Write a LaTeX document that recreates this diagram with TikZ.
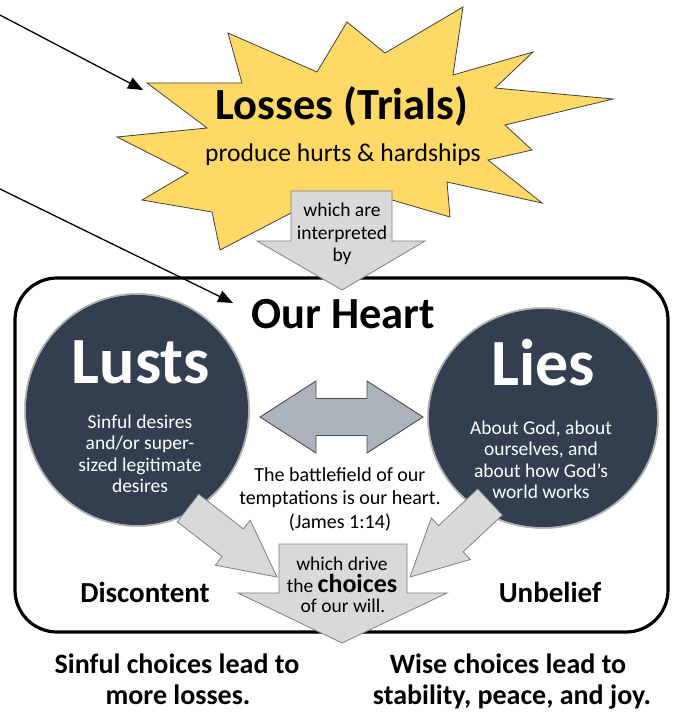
\documentclass[tikz,border=0pt]{standalone}
\usepackage{fontspec}
\setmainfont{Carlito}
\usetikzlibrary{arrows.meta,calc}

\definecolor{burstgold}{HTML}{FFD966}
\definecolor{heartnavy}{HTML}{333F50}
\definecolor{blockgray}{HTML}{D9D9D9}
\definecolor{slategray}{HTML}{ADB3BD}

\tikzset{
  burst/.style={fill=burstgold, draw=black!75, line width=0.8pt},
  blockarrow/.style={fill=blockgray, draw=black!50, line width=0.8pt},
  twoway/.style={fill=slategray, draw=black!70, line width=0.9pt},
  heartbox/.style={draw=black, line width=3.2pt, rounded corners=42pt},
  heartcircle/.style={fill=heartnavy, draw=black!30, line width=1.5pt},
  pointer/.style={line width=1.3pt, -{Triangle[length=15pt,width=12pt]}},
  title/.style={anchor=base, font=\fontsize{44.5}{50}\selectfont\bfseries},
  bigword/.style={anchor=base, text=white, font=\fontsize{66}{70}\selectfont\bfseries},
  small/.style={align=center, font=\fontsize{19.5}{22.5}\selectfont},
  whitesmall/.style={align=center, text=white, font=\fontsize{19.5}{21.5}\selectfont},
  arrowline/.style={anchor=base, inner sep=0pt, font=\fontsize{19.5}{22}\selectfont},
  sidelabel/.style={anchor=base, font=\fontsize{29}{34}\selectfont\bfseries},
  result/.style={anchor=base, font=\fontsize{28}{32}\selectfont\bfseries},
}

% fat arrow: tail, tip, shaft half width, head half width, head length
\newcommand{\fatarrow}[5]{%
  \coordinate (hb) at ($(#2)!#5!(#1)$);
  \filldraw[blockarrow] ($(#1)!#3!90:(#2)$) -- ($(hb)!#3!90:(#2)$)
    -- ($(hb)!#4!90:(#2)$) -- (#2) -- ($(hb)!#4!-90:(#2)$)
    -- ($(hb)!#3!-90:(#2)$) -- ($(#1)!#3!-90:(#2)$) -- cycle;}

\begin{document}
\begin{tikzpicture}[x=1pt,y=-1pt]
  \useasboundingbox (0,0) rectangle (673,714);

  % the burst of losses
  \filldraw[burst] (463,7) -- (453,75) -- (533,52) -- (495,88) -- (613,99)
    -- (505,125) -- (532,150) -- (488,160) -- (542,203) -- (447,182)
    -- (450,217) -- (392,200) -- (342,225) -- (291,213) -- (220,250)
    -- (212,212) -- (142,200) -- (188,173) -- (117,137) -- (207,128)
    -- (147,83) -- (242,83) -- (228,33) -- (317,72) -- (347,22)
    -- (385,53) -- cycle;
  \node[title] (losses) at (342,120) {Losses (Trials)};
  \node[anchor=base, font=\fontsize{25.6}{30}\selectfont] (hurts) at (343,162) {produce hurts \& hardships};

  % heart frame and the two circles
  \draw[heartbox] (15,278) rectangle (668,632);
  \node[title] (heart) at (343,328) {Our Heart};
  \fill[heartcircle] (137,410) ellipse [x radius=112, y radius=116];
  \draw[black!30, line width=1.5pt] (137,410) ellipse [x radius=112, y radius=116];
  \fill[heartcircle] (543,418) ellipse [x radius=115, y radius=110];
  \draw[black!30, line width=1.5pt] (543,418) ellipse [x radius=115, y radius=110];
  \node[bigword] (lusts) at (141,383) {Lusts};
  \node[whitesmall] (lustsnote) at (140,454) {Sinful desires\\and/or super-\\sized legitimate\\desires};
  \node[bigword] (lies) at (543,385) {Lies};
  \node[whitesmall] (liesnote) at (541,460) {About God, about\\ourselves, and\\about how God's\\world works};

  % interpreted by
  \filldraw[blockarrow] (291,191) -- (392,191) -- (392,241) -- (425,241)
    -- (342,290) -- (257,241) -- (291,241) -- cycle;
  \node[small] (interp) at (342,234) {which are\\interpreted\\by};

  % lusts and lies work together
  \filldraw[twoway] (260,417) -- (316,381) -- (316,398.5) -- (367,398.5)
    -- (367,381) -- (423,417) -- (367,453) -- (367,435.5) -- (316,435.5)
    -- (316,453) -- cycle;
  \node[small, font=\fontsize{20}{23.5}\selectfont] (battle) at (340,499)
    {The battlefield of our\\temptations is our heart.\\(James 1:14)};

  % both drive the will
  \coordinate (lustsout) at (188,508);
  \coordinate (choicesleft) at (277,577);
  \coordinate (liesout) at (490,502);
  \coordinate (choicesright) at (410,577);
  \fatarrow{lustsout}{choicesleft}{17.5pt}{28.5pt}{56pt}
  \fatarrow{liesout}{choicesright}{18pt}{28.5pt}{56pt}

  \filldraw[blockarrow] (279,544) -- (407,544) -- (407,593) -- (447,593)
    -- (342,643) -- (238,593) -- (279,593) -- cycle;
  \node[arrowline] (drive) at (342,570) {which drive};
  \node[arrowline] (choices) at (342,592) {the {\fontsize{26}{26}\selectfont\bfseries choices}};
  \node[arrowline] (will) at (343,612) {of our will.};

  \node[sidelabel] (discontent) at (145,602) {Discontent};
  \node[sidelabel] (unbelief) at (550,602) {Unbelief};

  % outcomes
  \node[result] (sinful) at (177,673) {Sinful choices lead to};
  \node[result] (sinfulend) at (178,704) {more losses.};
  \node[result] (wise) at (508,673) {Wise choices lead to};
  \node[result] (wiseend) at (512,704) {stability, peace, and joy.};

  % pointers
  \coordinate (pointa) at (-2,14);
  \coordinate (burstedge) at (143,90);
  \coordinate (pointb) at (-2,188);
  \coordinate (heartedge) at (233,303);
  \draw[pointer] (pointa) -- (burstedge);
  \draw[pointer] (pointb) -- (heartedge);
\end{tikzpicture}
\end{document}
